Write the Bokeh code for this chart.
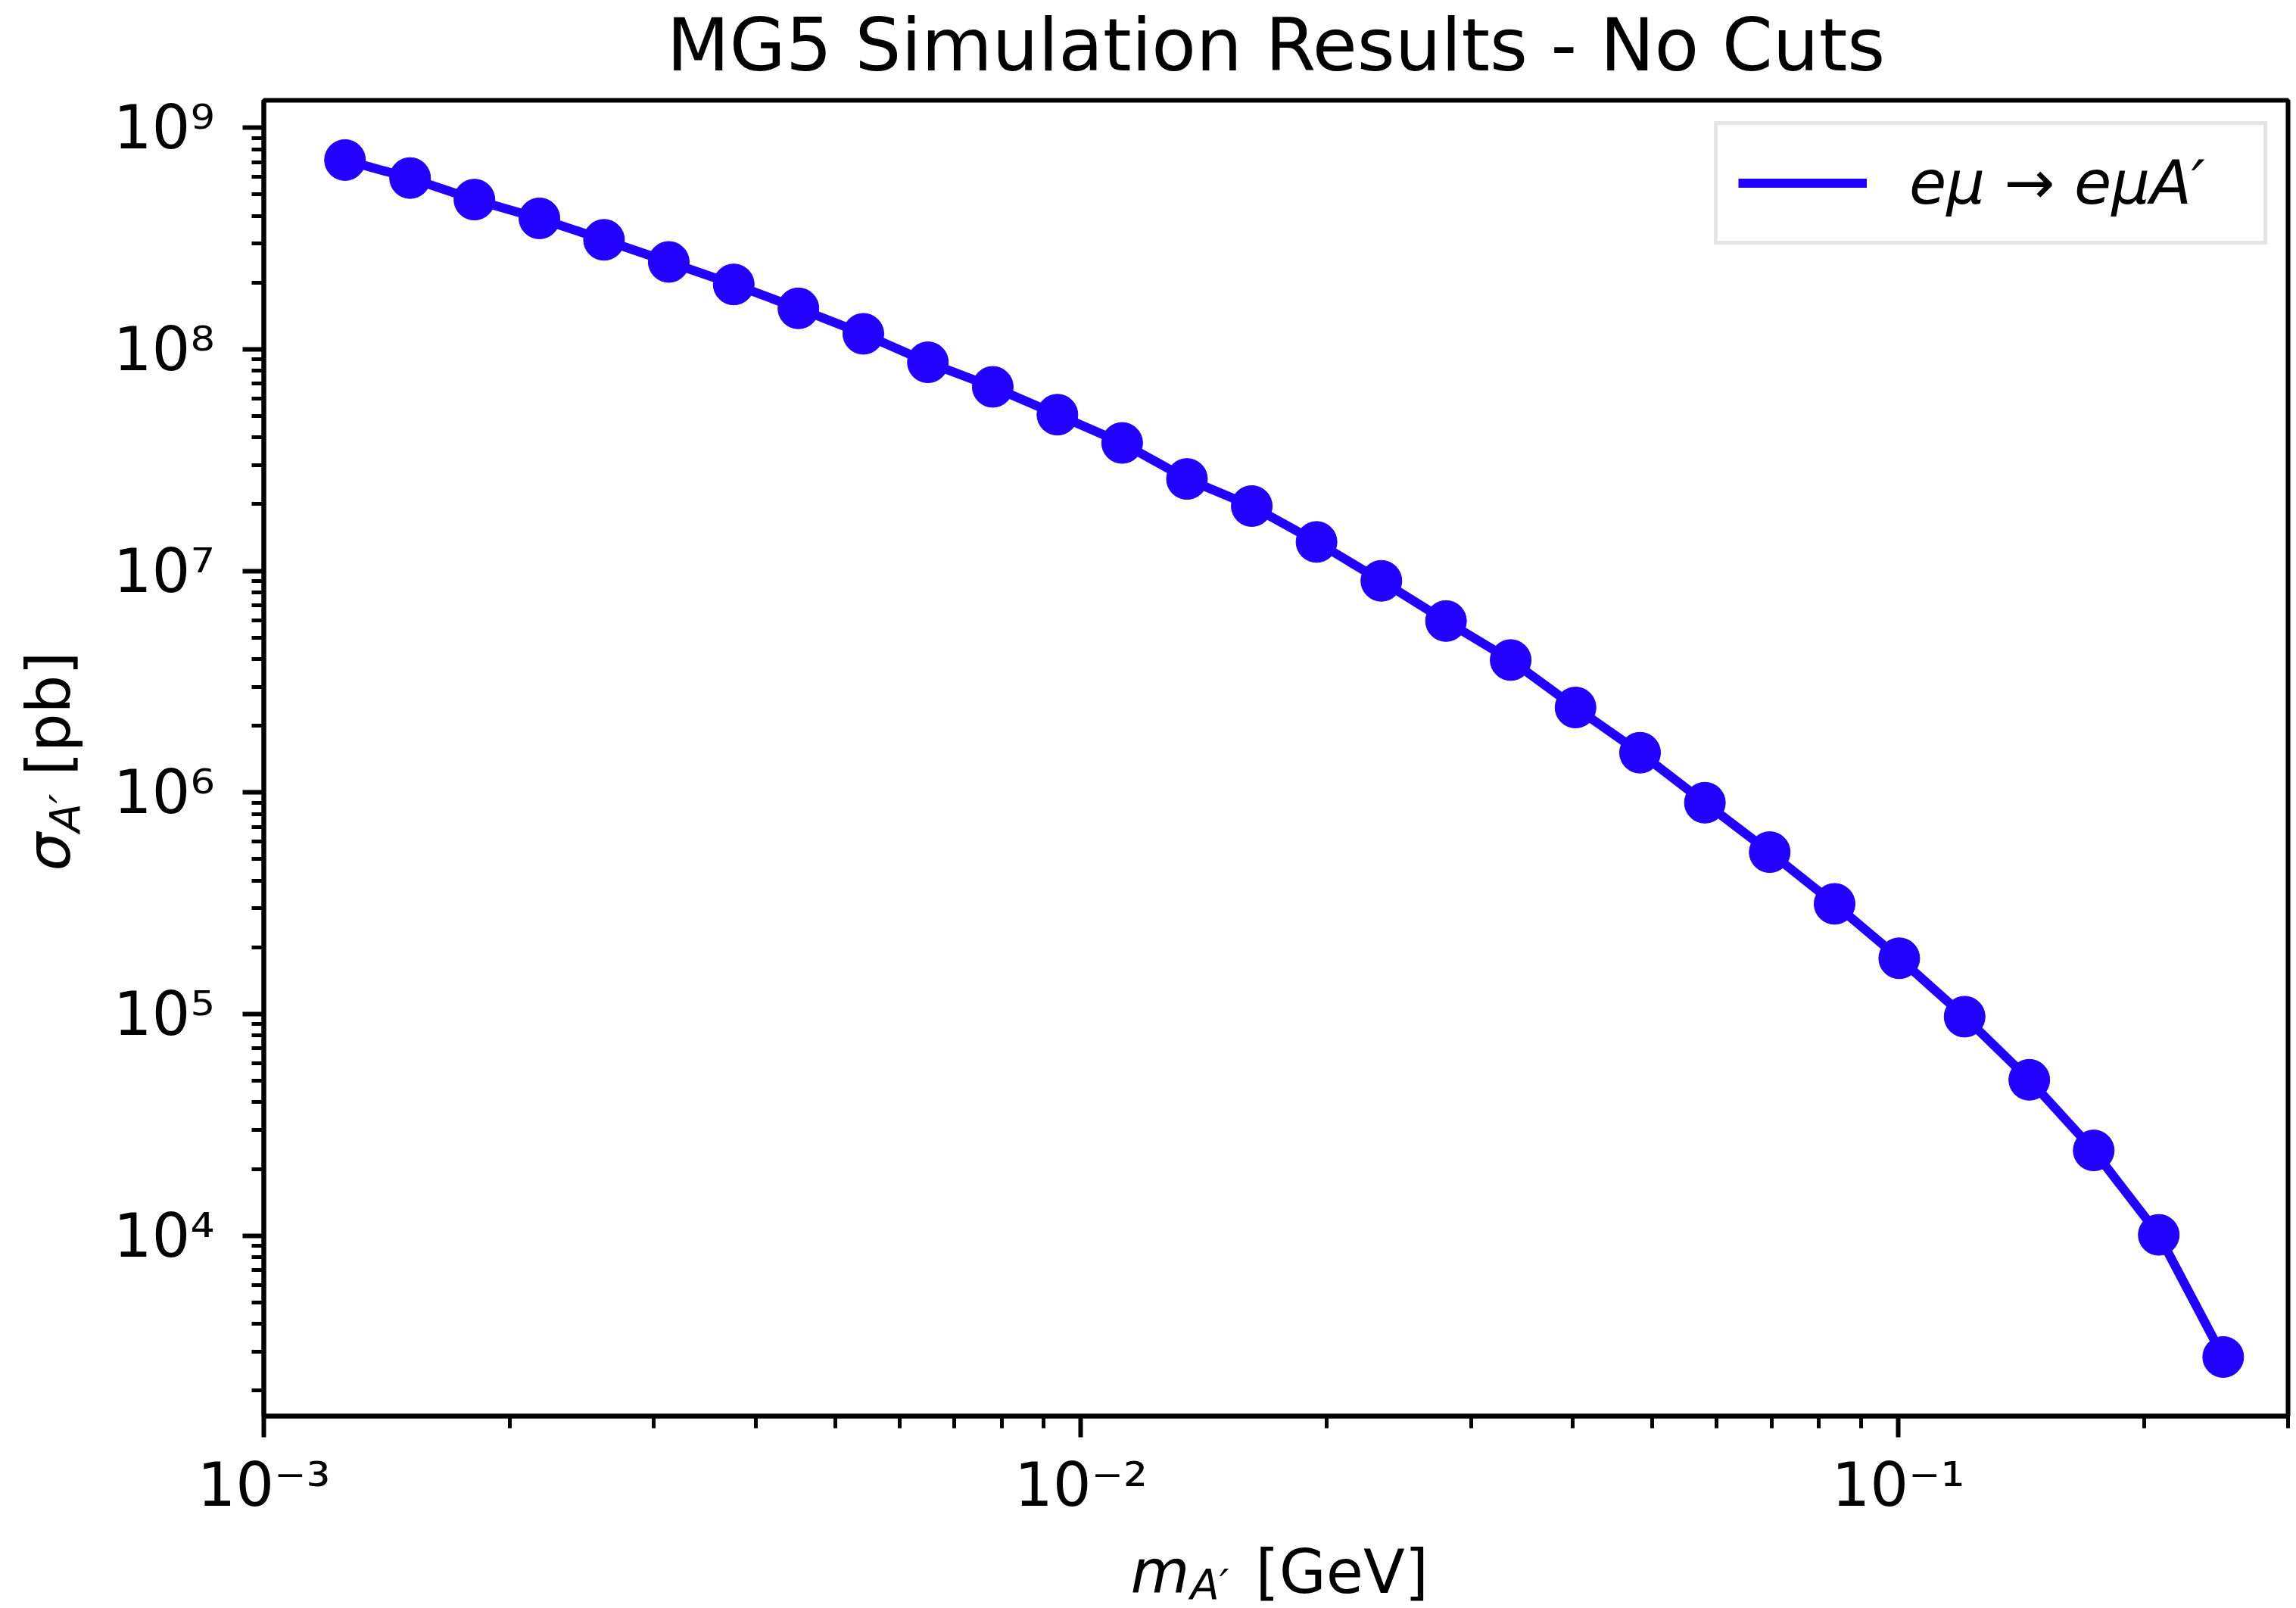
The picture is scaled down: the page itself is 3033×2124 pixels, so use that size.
import math
from bokeh.plotting import figure
from bokeh.models import Label, FixedTicker, CustomJSTickFormatter, Range1d, BoxAnnotation
from bokeh.embed import file_html
from bokeh.resources import INLINE

# ---------------- data ----------------
mass_gev = [0.001257, 0.001510, 0.001810, 0.002174, 0.002608, 0.003130,
            0.003759, 0.004510, 0.005416, 0.006496, 0.007799, 0.009357,
            0.01123, 0.01348, 0.01618, 0.01942, 0.02331, 0.02797,
            0.03356, 0.04029, 0.04832, 0.05801, 0.06963, 0.08360,
            0.1003, 0.1206, 0.1447, 0.1735, 0.2084, 0.2499]
sigma_pb = [7.15e8, 5.93e8, 4.74e8, 3.90e8, 3.12e8, 2.48e8,
            1.963e8, 1.531e8, 1.175e8, 8.74e7, 6.77e7, 5.07e7,
            3.78e7, 2.60e7, 1.962e7, 1.351e7, 9.02e6, 5.94e6,
            3.96e6, 2.418e6, 1.512e6, 8.99e5, 5.38e5, 3.143e5,
            1.785e5, 9.73e4, 5.05e4, 2.424e4, 1.008e4, 2.833e3]

x_major_ticks = [1e-3, 1e-2, 1e-1]
x_minor_ticks = [2e-3, 3e-3, 4e-3, 5e-3, 6e-3, 7e-3, 8e-3, 9e-3,
                 2e-2, 3e-2, 4e-2, 5e-2, 6e-2, 7e-2, 8e-2, 9e-2,
                 2e-1, 3e-1]
y_major_ticks = [1e4, 1e5, 1e6, 1e7, 1e8, 1e9]

title_text = "MG5 Simulation Results - No Cuts"
legend_text = "eμ → eμA′"
x_lim = (1e-3, 0.3)
y_lim = (1.533e3, 1.33e9)
y_minor_ticks = [m * 10.0 ** e for e in range(3, 10) for m in range(2, 10)
                 if y_lim[0] <= m * 10.0 ** e <= y_lim[1]]

# ---------------- layout (canvas pixels) ----------------
W, H = 3033, 2124
FL, FR, FT, FB = 348, 3022, 132, 1870   # plot box edges
BLUE = "#2200ff"
FONT = "DejaVu Sans"
BASE_SHIFT = 0.33   # Label anchor sits ~0.33 em off the glyph baseline

lx0, lx1 = math.log10(x_lim[0]), math.log10(x_lim[1])
ly0, ly1 = math.log10(y_lim[0]), math.log10(y_lim[1])


def xd(px):
    return 10 ** (lx0 + (px - FL) / (FR - FL) * (lx1 - lx0))


def yd(py):
    return 10 ** (ly1 - (py - FT) / (FB - FT) * (ly1 - ly0))


# the frame covers the whole canvas; axes are pinned at the plot-box edges
p = figure(width=W, height=H, x_axis_type="log", y_axis_type="log",
           x_range=Range1d(xd(0), xd(W)), y_range=Range1d(yd(H), yd(0)),
           output_backend="svg", toolbar_location=None, title=None,
           min_border=0)

p.background_fill_color = "white"
p.border_fill_color = "white"
p.outline_line_color = None
p.xgrid.visible = False
p.ygrid.visible = False

fmt_code = """
const sup = {'-':'\u207b','0':'\u2070','1':'\u00b9','2':'\u00b2','3':'\u00b3',
             '4':'\u2074','5':'\u2075','6':'\u2076','7':'\u2077','8':'\u2078','9':'\u2079'};
const e = Math.round(Math.log10(tick));
return '10' + String(e).split('').map(c => sup[c]).join('');
"""

p.xaxis.ticker = FixedTicker(ticks=x_major_ticks, minor_ticks=x_minor_ticks)
p.yaxis.ticker = FixedTicker(ticks=y_major_ticks, minor_ticks=y_minor_ticks)
p.xaxis.fixed_location = y_lim[0]
p.yaxis.fixed_location = x_lim[0]
p.xaxis.bounds = x_lim
p.yaxis.bounds = y_lim
for ax in (p.xaxis, p.yaxis):
    ax.formatter = CustomJSTickFormatter(code=fmt_code)
    ax.axis_line_color = "black"
    ax.axis_line_width = 6
    ax.major_tick_line_color = "black"
    ax.minor_tick_line_color = "black"
    ax.major_tick_line_width = 6
    ax.minor_tick_line_width = 5
    ax.major_tick_out = 28
    ax.major_tick_in = 0
    ax.minor_tick_out = 16
    ax.minor_tick_in = 0
    ax.major_label_text_font = FONT
    ax.major_label_text_font_size = "80px"
    ax.major_label_text_color = "black"
p.xaxis.major_label_standoff = 16
p.yaxis.major_label_standoff = 37

# plot box (spines)
p.add_layout(BoxAnnotation(left=x_lim[0], right=x_lim[1], bottom=y_lim[0], top=y_lim[1],
                           fill_alpha=0, line_color="black", line_alpha=1.0,
                           line_width=6))

# ---------------- data marks ----------------
p.line(mass_gev, sigma_pb, line_color=BLUE, line_width=12,
       legend_label=legend_text)
p.scatter(mass_gev, sigma_pb, size=54, fill_color=BLUE, line_color=BLUE,
          line_width=1)

# ---------------- legend ----------------
lg = p.legend[0]
lg.location = (2264, H - 323)   # bottom-left corner of the legend box
lg.padding = 27
lg.spacing = 0
lg.glyph_width = 170
lg.glyph_height = 99
lg.label_height = 99
lg.label_width = 441
lg.label_standoff = 56
lg.label_text_font = FONT
lg.label_text_font_style = "italic"
lg.label_text_font_size = "80px"
lg.label_text_color = "black"
lg.border_line_color = "#cccccc"
lg.border_line_width = 5
lg.background_fill_color = "white"
lg.background_fill_alpha = 0.8


# ---------------- texts around the plot box ----------------
def add_label(text, px, py, size_px, style="normal", align="left", rotated=False):
    # (px, py): wanted start of the glyph baseline, in canvas pixels
    shift = BASE_SHIFT * size_px
    if rotated:
        px, angle = px - shift, math.pi / 2
    else:
        py, angle = py - shift, 0.0
    p.add_layout(Label(x=xd(px), y=yd(py), text=text, text_font=FONT,
                       text_font_size=f"{size_px}px", text_font_style=style,
                       text_color="black", text_align=align,
                       text_baseline="alphabetic", angle=angle))


# title
add_label(title_text, (FL + FR) / 2, 91, 96, align="center")
# x axis label: m_{A'} [GeV]
add_label("m", 1493, 2102, 80, style="italic")
add_label("A′", 1572, 2110, 56, style="italic")
add_label("[GeV]", 1658, 2102, 80)
# y axis label: sigma_{A'} [pb]
add_label("σ", 90, 1150, 80, style="italic", rotated=True)
add_label("A′", 103, 1099, 56, style="italic", rotated=True)
add_label("[pb]", 90, 1024, 80, rotated=True)

open("out.html", "w").write(file_html(p, INLINE))
